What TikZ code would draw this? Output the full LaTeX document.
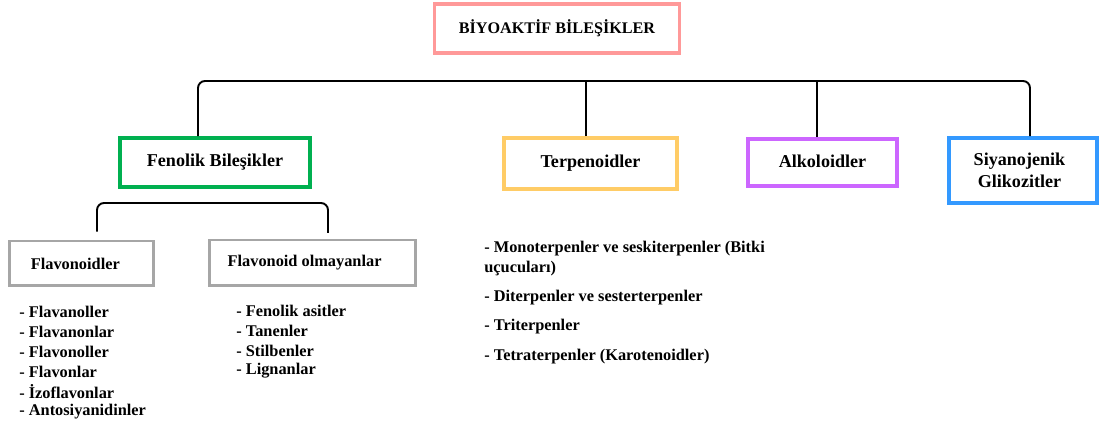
\documentclass[tikz,border=0pt]{standalone}
\usepackage{fontspec}
\setmainfont{Liberation Serif}
\usetikzlibrary{calc}

\definecolor{kpink}{HTML}{FF9999}
\definecolor{kgreen}{HTML}{00B050}
\definecolor{kyellow}{HTML}{FFCC66}
\definecolor{kpurple}{HTML}{CC66FF}
\definecolor{kblue}{HTML}{3399FF}
\definecolor{kgray}{HTML}{A6A6A6}

\tikzset{
  box/.style={draw, line width=2.2pt, inner sep=0pt, align=center, font=\fontsize{10.3}{12.4}\selectfont\bfseries},
  subbox/.style={draw=kgray, line width=1.7pt, inner sep=0pt, align=center},
  conn/.style={line width=1.1pt, rounded corners=4pt},
  item/.style={anchor=west, inner sep=0pt, align=left}
}

\begin{document}
\begin{tikzpicture}[x=0.02cm, y=-0.02cm, font=\fontsize{9.3}{11}\selectfont\bfseries]
          \useasboundingbox (0,0) rectangle (1100,425);
          % kutular
          \node[box, draw=kpink, minimum width=4.9cm, minimum height=0.98cm, font=\fontsize{9.2}{11}\selectfont\bfseries] (biyo) at (557,28.5) {\raisebox{2pt}{BİYOAKTİF BİLEŞİKLER}};
          \node[box, draw=kgreen, minimum width=3.8cm, minimum height=0.98cm] (fen) at (215,162.5) {Fenolik Bileşikler};
          \node[box, draw=kyellow, minimum width=3.46cm, minimum height=1.02cm] (ter) at (590.5,163.5) {Terpenoidler};
          \node[box, draw=kpurple, minimum width=2.98cm, minimum height=0.94cm] (alk) at (822.5,162.5) {\raisebox{1.5pt}{Alkoloidler}};
          \node[box, draw=kblue, minimum width=2.96cm, minimum height=1.3cm] (siy) at (1023,170.5) {\hspace*{-4pt}Siyanojenik\\\hspace*{-4pt}Glikozitler};
          \node[subbox, minimum width=2.9cm, minimum height=0.9cm] (flv) at (81.5,263.5) {\hspace*{-7pt}Flavonoidler};
          \node[subbox, minimum width=4.14cm, minimum height=0.92cm] (nfl) at (312.5,263) {\hspace*{-9pt}\raisebox{1pt}{Flavonoid olmayanlar}};
          % baglantilar
          \coordinate (barL) at (198,81);
          \coordinate (barR) at (1030,81);
          \draw[conn] (fen.north -| barL) -- (barL) -- (barR) -- (siy.north -| barR);
          \draw[conn] (ter.north -| 586,0) -- (586,81);
          \draw[conn] (alk.north -| 817,0) -- (817,81);
          \coordinate (subL) at (97,203);
          \coordinate (subR) at (328,203);
          \draw[conn] (flv.north -| subL) ++(0,-8) -- (subL) -- (subR) -- ++(0,30);
          % listeler
          \foreach \t [count=\i] in {Flavanoller, Flavanonlar, Flavonoller, Flavonlar, İzoflavonlar, Antosiyanidinler}
            \node[item] (fl\i) at (19,292+20*\i) {- \t};
          \foreach \t [count=\i] in {Fenolik asitler, Tanenler, Stilbenler, Lignanlar}
            \node[item] (nf\i) at (236,291+20*\i) {- \t};
          \node[item] (tp1) at (484,258.5) {- Monoterpenler ve seskiterpenler (Bitki\\uçucuları)};
          \node[item] (tp2) at (484,298) {- Diterpenler ve sesterterpenler};
          \node[item] (tp3) at (484,327) {- Triterpenler};
          \node[item] (tp4) at (484,357) {- Tetraterpenler (Karotenoidler)};
        \end{tikzpicture}
\end{document}
